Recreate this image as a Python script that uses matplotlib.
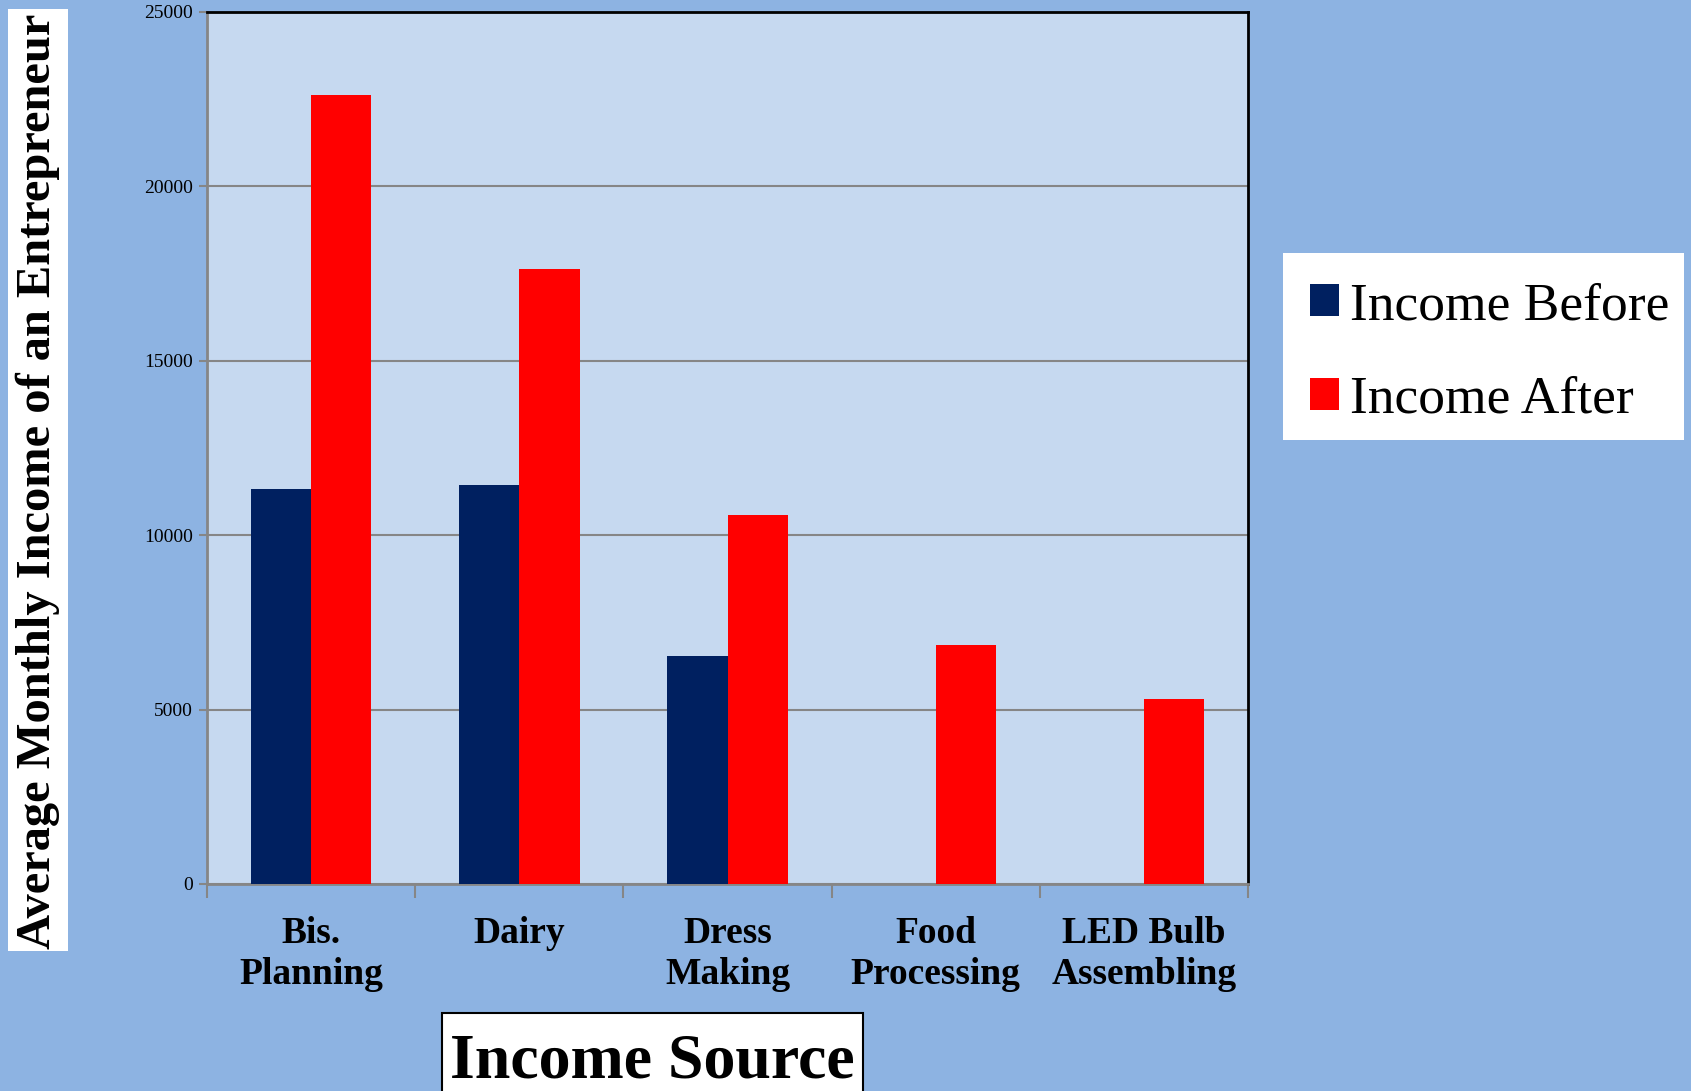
import numpy as np
import matplotlib
matplotlib.use("Agg")
import matplotlib.pyplot as plt
from matplotlib.patches import Rectangle

categories = ["Bis.\nPlanning", "Dairy", "Dress\nMaking", "Food\nProcessing", "LED Bulb\nAssembling"]
income_before = [11320, 11440, 6550, 0, 0]
income_after = [22620, 17630, 10570, 6860, 5310]
yticks = [0, 5000, 10000, 15000, 20000, 25000]

W, H = 1691, 1091
fig = plt.figure(figsize=(W / 100, H / 100), dpi=100)
fig.patch.set_facecolor("#8DB3E2")
serif = ["Liberation Serif", "DejaVu Serif"]

ax = fig.add_axes([207 / W, 1 - 884 / H, (1248 - 207) / W, (884 - 12) / H])
ax.set_facecolor("#C6D9F0")

x = np.arange(len(categories)) + 0.5
bw = 0.29
ax.bar(x - bw / 2, income_before, bw, color="#002060", label="Income Before", zorder=3)
ax.bar(x + bw / 2, income_after, bw, color="#FF0000", label="Income After", zorder=3)

ax.set_xlim(0, len(categories))
ax.set_ylim(0, 25000)
ax.set_yticks(yticks)
ax.set_yticklabels([str(v) for v in yticks], family=serif, fontsize=14)
ax.yaxis.grid(True, color="#868686", linewidth=1.5, zorder=0)
ax.tick_params(axis="y", length=6, width=1.5, color="#868686", pad=4)

ax.set_xticks(x)
ax.set_xticklabels(categories, family=serif, fontsize=27, fontweight="bold", linespacing=1.22)
ax.set_xticks(np.arange(len(categories) + 1), minor=True)
ax.tick_params(axis="x", which="major", length=0, pad=23)
ax.tick_params(axis="x", which="minor", length=10, width=1.5, color="#868686")

for s in ["left", "bottom"]:
    ax.spines[s].set_color("#868686")
    ax.spines[s].set_linewidth(2)
for s in ["top", "right"]:
    ax.spines[s].set_color("black")
    ax.spines[s].set_linewidth(2)

# y-axis title in white box
fig.patches.append(Rectangle((8 / W, 1 - 951 / H), 60 / W, 942 / H, transform=fig.transFigure,
                             facecolor="white", edgecolor="none"))
fig.text(38 / W, 1 - 481 / H, "Average Monthly Income of an Entrepreneur", rotation=90,
         ha="center", va="center", family=serif, fontsize=34.9, fontweight="bold")

# x-axis title in outlined box
fig.patches.append(Rectangle((442 / W, 1 - 1095 / H), 421 / W, 82 / H, transform=fig.transFigure,
                             facecolor="white", edgecolor="black", linewidth=1.5))
fig.text(652 / W, 1 - 1062 / H, "Income Source", ha="center", va="center",
         family=serif, fontsize=46, fontweight="bold")

# legend
fig.patches.append(Rectangle((1283 / W, 1 - 440 / H), 401 / W, 187 / H, transform=fig.transFigure,
                             facecolor="white", edgecolor="none"))
leg = fig.legend(loc="center left", bbox_to_anchor=(1283 / W, 1 - 353 / H), frameon=False,
                 prop={"family": serif, "size": 38.5}, handlelength=0.55, handleheight=0.55,
                 handletextpad=0.2, labelspacing=0.85, borderpad=0)

fig.savefig("out.png", dpi=100, facecolor=fig.get_facecolor())
